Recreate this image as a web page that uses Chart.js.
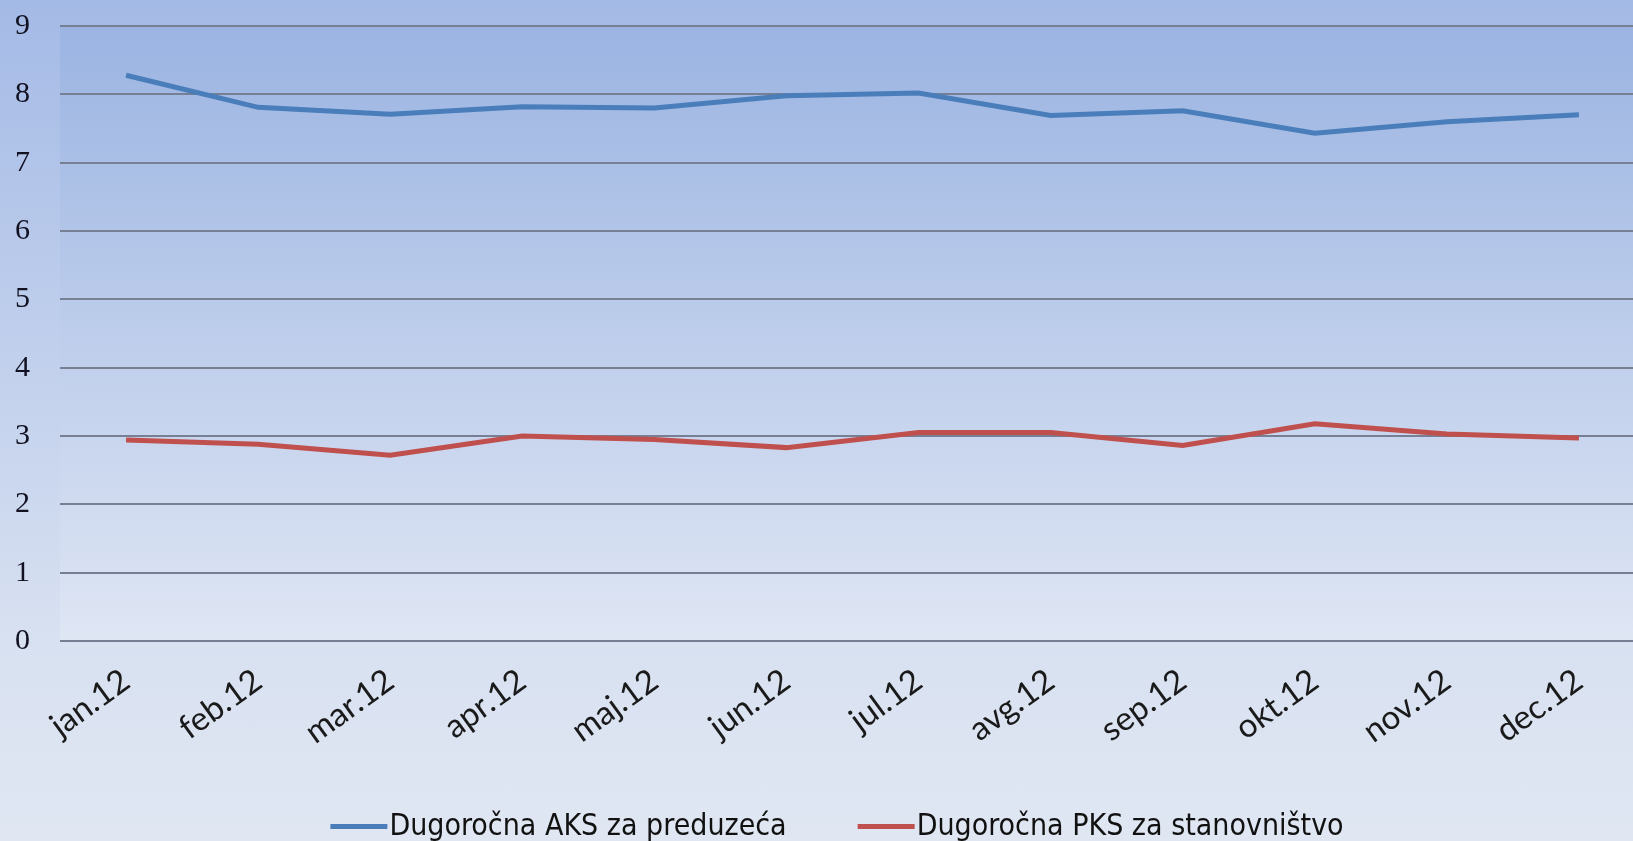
<!DOCTYPE html>
<html>
<head>
<meta charset="utf-8">
<script src="https://cdn.jsdelivr.net/npm/chart.js@4"></script>
<style>
  html, body { margin: 0; padding: 0; }
  #wrap {
    width: 1633px; height: 841px; overflow: hidden; position: relative;
    background: linear-gradient(to bottom, #a4bae6 0px, #d8e1f1 640px, #e0e7f3 841px);
  }
  #box { width: 1652px; height: 841px; position: absolute; left: 0; top: 0; }
</style>
</head>
<body>
<div id="wrap"><div id="box"><canvas id="lineChart"></canvas></div></div>
<script>
// data
const months = ['jan.12', 'feb.12', 'mar.12', 'apr.12', 'maj.12', 'jun.12',
                'jul.12', 'avg.12', 'sep.12', 'okt.12', 'nov.12', 'dec.12'];
const aksPreduzeca = [8.28, 7.81, 7.71, 7.82, 7.80, 7.98, 8.02, 7.69, 7.76, 7.43, 7.60, 7.70];
const pksStanovnistvo = [2.94, 2.88, 2.72, 3.00, 2.95, 2.83, 3.05, 3.05, 2.86, 3.18, 3.03, 2.97];

const legendFont = "30px 'Liberation Sans Narrow', 'DejaVu Sans Condensed', sans-serif";

// plot area gradient
const plotBg = {
    id: 'plotBg',
    beforeDraw(chart) {
        const {ctx, chartArea} = chart;
        const g = ctx.createLinearGradient(0, chartArea.top, 0, chartArea.bottom);
        g.addColorStop(0, '#9bb4e2');
        g.addColorStop(1, '#dfe6f4');
        ctx.save();
        ctx.fillStyle = g;
        ctx.fillRect(chartArea.left, chartArea.top, chartArea.right - chartArea.left, chartArea.bottom - chartArea.top);
        ctx.restore();
    }
};

// legend like the excel one: line sample right next to the text
const legendBar = {
    id: 'legendBar',
    afterDraw(chart) {
        const ctx = chart.ctx;
        const lineW = 57, textGap = 2, itemGap = 71;
        const cy = 826, cx = 837;
        ctx.save();
        ctx.font = legendFont;
        ctx.textBaseline = 'middle';
        const items = chart.data.datasets.map(ds => ({
            text: ds.label, color: ds.borderColor, w: ctx.measureText(ds.label).width
        }));
        let total = items.reduce((s, it) => s + lineW + textGap + it.w, 0) + itemGap * (items.length - 1);
        let x = cx - total / 2;
        items.forEach(it => {
            ctx.fillStyle = it.color;
            ctx.fillRect(x, cy - 2, lineW, 5);
            x += lineW + textGap;
            ctx.fillStyle = '#111';
            ctx.fillText(it.text, x, cy + 1);
            x += it.w + itemGap;
        });
        ctx.restore();
    }
};

const ctx = document.getElementById('lineChart').getContext('2d');
const chart = new Chart(ctx, {
    type: 'line',
    data: {
        labels: months,
        datasets: [
            {
                label: 'Dugoročna AKS za preduzeća',
                data: aksPreduzeca,
                borderColor: '#4a7ebb',
                backgroundColor: '#4a7ebb',
                borderWidth: 5,
                pointRadius: 0,
                tension: 0,
            },
            {
                label: 'Dugoročna PKS za stanovništvo',
                data: pksStanovnistvo,
                borderColor: '#c0504d',
                backgroundColor: '#c0504d',
                borderWidth: 5,
                pointRadius: 0,
                tension: 0,
            },
        ],
    },
    options: {
        responsive: true,
        maintainAspectRatio: false,
        animation: false,
        layout: { padding: { left: 0, right: 7, top: 26, bottom: 70 } },
        plugins: {
            tooltip: { enabled: false },
            legend: { display: false },
        },
        scales: {
            x: {
                offset: true,
                grid: { display: false },
                border: { display: false },
                ticks: {
                    minRotation: 36,
                    maxRotation: 36,
                    padding: 12,
                    color: '#1a1a1a',
                    font: { family: 'Lato, sans-serif', size: 33 },
                },
                afterFit(scale) { scale.height = 130; },
            },
            y: {
                min: 0,
                max: 9,
                afterFit(scale) {
                    scale.width = 60;
                    scale.paddingTop = 0;
                    scale.paddingBottom = 0;
                },
                border: { display: false },
                grid: { color: '#767f93', lineWidth: 2, drawTicks: false },
                ticks: {
                    stepSize: 1,
                    padding: 30,
                    color: '#111122',
                    font: { family: "'Liberation Serif', serif", size: 30 },
                },
            },
        },
    },
    plugins: [plotBg, legendBar],
});
</script>
</body>
</html>
